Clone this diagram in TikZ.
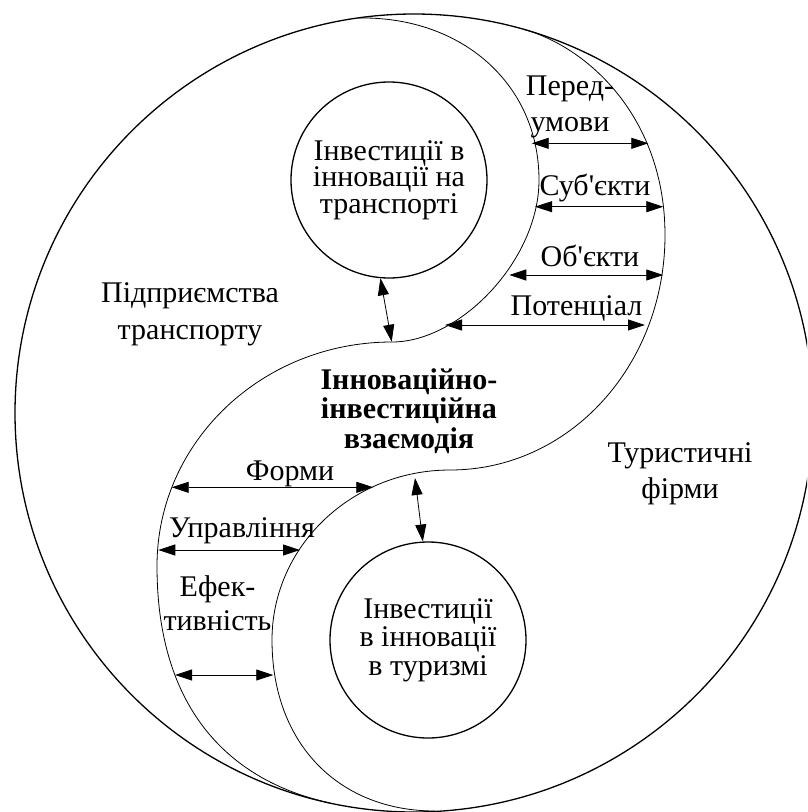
\documentclass[tikz,border=0pt]{standalone}
\usepackage{fontspec}
\setmainfont{Liberation Serif}
\usetikzlibrary{arrows.meta,positioning}

\begin{document}
\begin{tikzpicture}[
  x=1pt, y=-1pt,
  font=\fontsize{30}{36}\selectfont,
  % --- Стилі ---
  rim/.style={draw, line width=1.3pt},
  curve/.style={draw, line width=0.8pt},
  invest/.style={
    circle,
    draw,
    line width=1.3pt,
    minimum size=196pt,
    inner sep=0pt,
    align=center
  },
  txt/.style={align=center, inner sep=0pt},
  biarrow/.style={
    {Triangle[length=17pt,width=11pt]}-{Triangle[length=17pt,width=11pt]},
    line width=0.8pt
  }
]
\useasboundingbox (0,0) rectangle (807,812);
\clip (0,0) rectangle (807,812);

% ---- ЗОВНІШНЄ КОЛО ----
\draw[rim] (414,413) circle[radius=399];

% ---- ЛІНІЇ ПОДІЛУ ----
% внутрішня лінія (навколо транспорту)
\draw[curve] (358,18) .. controls (463,16) and (539,85) .. (539,180)
  .. controls (539,260) and (460,342) .. (392,342)
  .. controls (262,342) and (157,442) .. (157,566)
  .. controls (157,710) and (230,781) .. (330,803);
% зовнішня лінія (навколо туризму)
\draw[curve] (523,29) .. controls (593,49) and (665,122) .. (665,235)
  .. controls (665,365) and (570,470) .. (450,470)
  .. controls (352,470) and (272,546) .. (272,640)
  .. controls (272,745) and (340,811) .. (435,811);

% ---- ІНВЕСТИЦІЇ ----
\node[invest, font=\fontsize{30}{26.5}\selectfont] (trans) at (389,180) {Інвестиції в\\інновації на\\транспорті};
\node[invest, font=\fontsize{30}{28.5}\selectfont] (tour) at (428,640) {Інвестиції\\в інновації\\в туризмі};

% ---- ГОЛОВНІ НАПИСИ ----
\node[txt, font=\fontsize{30}{29.5}\selectfont\bfseries] (inter) at (409,411) {Інноваційно-\\інвестиційна\\взаємодія};
\node[txt, font=\fontsize{30}{37}\selectfont] (firmtr) at (190,314.5) {Підприємства\\транспорту};
\node[txt] (firmtu) at (680,474) {Туристичні\\фірми};

% ---- НАПИСИ ПРАВОРУЧ ----
\node[txt] (pered) at (570,107) {Перед-\\умови};
\node[txt, anchor=base] (subj) at (595,195) {Суб\textquotesingle єкти};
\node[txt, anchor=base] (obj) at (590,266) {Об\textquotesingle єкти};
\node[txt, anchor=base] (potent) at (576.5,315) {Потенціал};

% ---- НАПИСИ ЛІВОРУЧ ----
\node[txt, anchor=base] (forms) at (290,480) {Форми};
\node[txt, anchor=base] (manage) at (242,537) {Управління};
\node[txt, font=\fontsize{30}{34}\selectfont] (effect) at (217.5,603) {Ефек-\\тивність};

% ---- КІНЦІ СТРІЛОК ----
\coordinate (a1l) at (531.7,143.3);
\coordinate (a1r) at (648.3,143.3);
\coordinate (a2l) at (535,206.7);
\coordinate (a2r) at (663.3,206.7);
\coordinate (a3l) at (509.3,275);
\coordinate (a3r) at (663.3,275);
\coordinate (a4l) at (445,325);
\coordinate (a4r) at (645,325);
\coordinate (b1l) at (171.7,487.3);
\coordinate (b1r) at (373.3,487.3);
\coordinate (b2l) at (158.3,550);
\coordinate (b2r) at (300,550);
\coordinate (b3l) at (175,675);
\coordinate (b3r) at (273.3,675);
\coordinate (v1) at (391.7,341.7);
\coordinate (v2) at (415,478);

% ---- СТРІЛКИ ----
\draw[biarrow] (a1l) -- (a1r);
\draw[biarrow] (a2l) -- (a2r);
\draw[biarrow] (a3l) -- (a3r);
\draw[biarrow] (a4l) -- (a4r);

\draw[biarrow] (b1l) -- (b1r);
\draw[biarrow] (b2l) -- (b2r);
\draw[biarrow] (b3l) -- (b3r);

\draw[biarrow] (trans.265) -- (v1);
\draw[biarrow] (v2) -- (tour.93);

\end{tikzpicture}
\end{document}
